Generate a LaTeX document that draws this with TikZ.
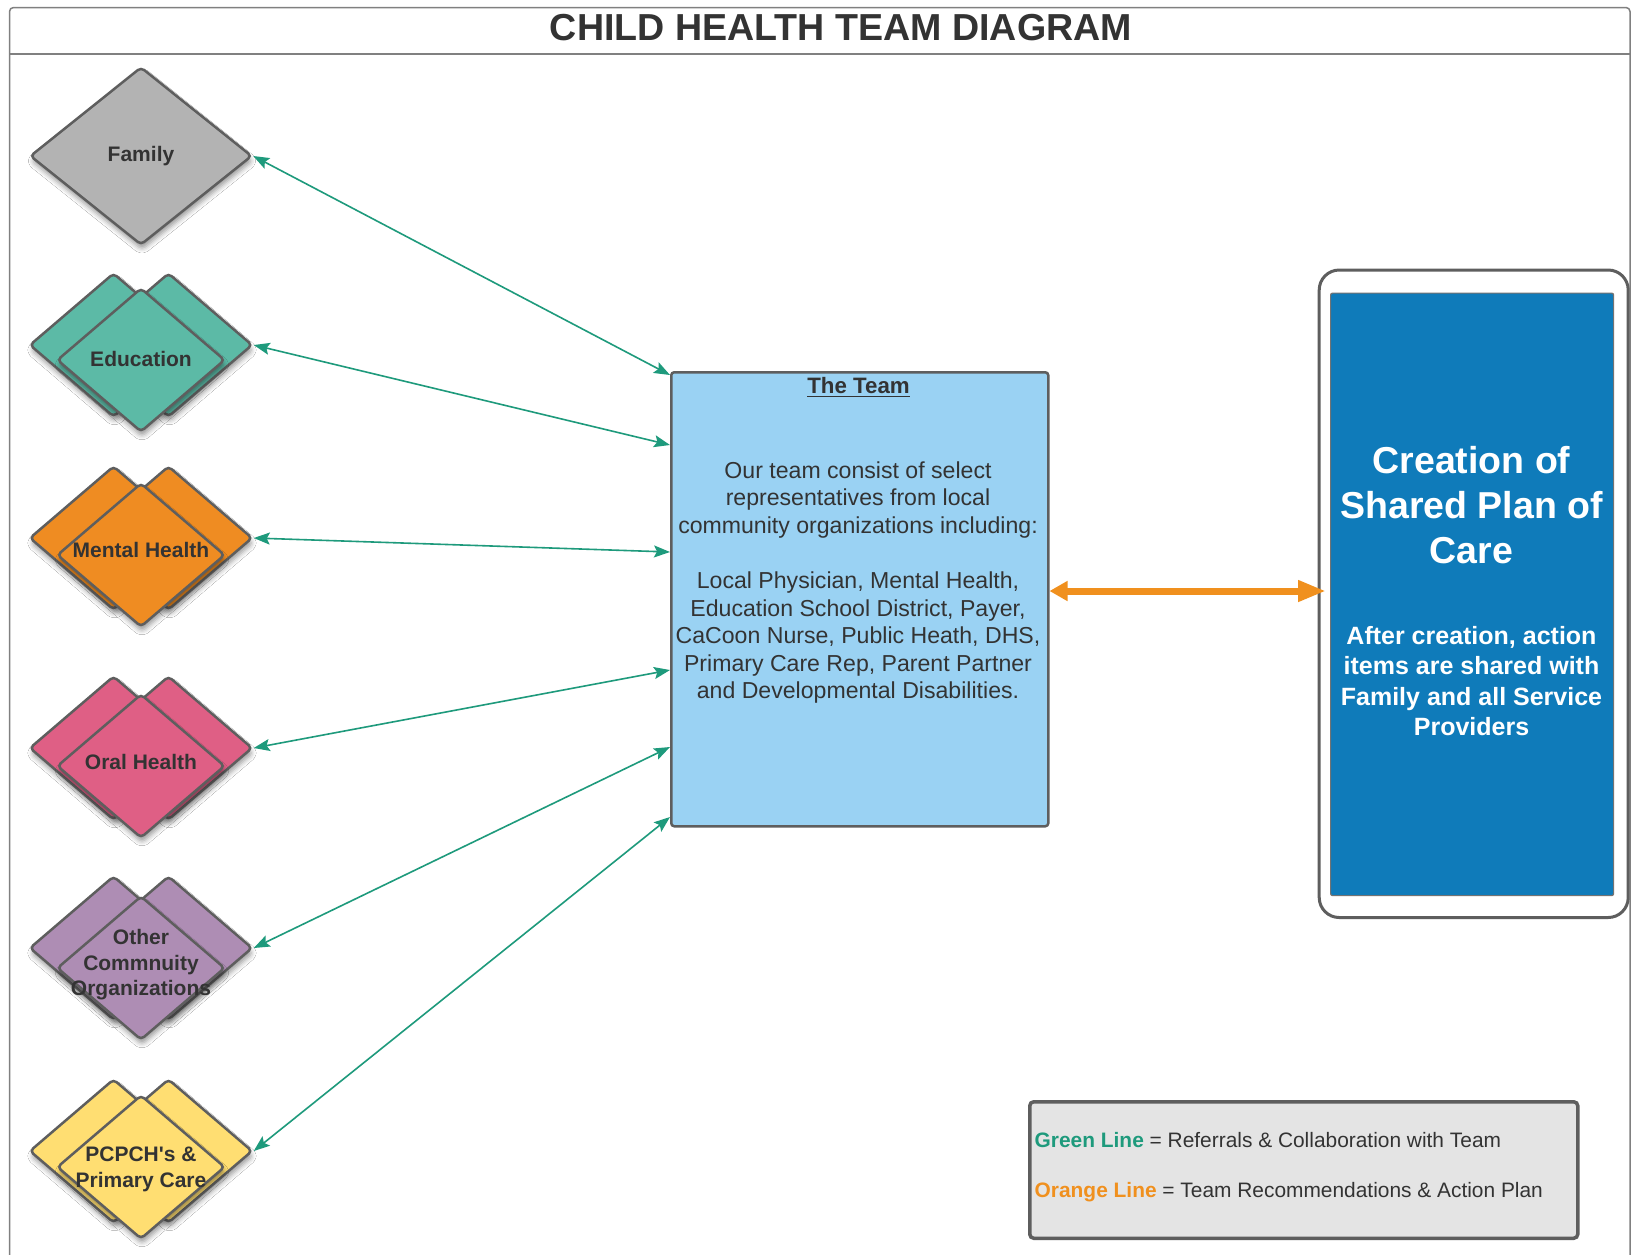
\documentclass[tikz,border=0pt]{standalone}
\usepackage{fontspec}
\setmainfont{Liberation Sans}
\usetikzlibrary{shapes.geometric,arrows.meta,shadows.blur,calc}
\definecolor{txt}{HTML}{333333}
\definecolor{bord}{HTML}{5E5E5E}
\definecolor{cfam}{HTML}{B3B3B3}
\definecolor{cedu}{HTML}{5CBAA6}
\definecolor{cmh}{HTML}{EF8C22}
\definecolor{coral}{HTML}{DF5F85}
\definecolor{cother}{HTML}{AE8DB4}
\definecolor{cpc}{HTML}{FFDE72}
\definecolor{cteam}{HTML}{9AD2F3}
\definecolor{cblue}{HTML}{0F7BBA}
\definecolor{gline}{HTML}{1E9A7C}
\definecolor{oline}{HTML}{F0901E}
\definecolor{legfill}{HTML}{E4E4E4}
\definecolor{framec}{HTML}{808080}
\begin{document}
\begin{tikzpicture}[x=1pt,y=-1pt,
  every node/.style={inner sep=0pt, text=txt},
  dia/.style={diamond, draw=bord, line width=2.5pt, rounded corners=4pt,
    minimum width=168pt, minimum height=144pt, inner sep=0pt,
    blur shadow={shadow xshift=1pt, shadow yshift=-5pt, shadow blur radius=5pt, shadow opacity=40}},
  lbl/.style={font=\fontsize{21}{25.5}\selectfont\bfseries, align=center, text=txt},
  garrow/.style={draw=gline, line width=1.6pt,
    {Stealth[length=16pt,width=12pt,inset=3pt]}-{Stealth[length=16pt,width=12pt,inset=3pt]}},
  oarrow/.style={draw=oline, line width=7pt,
    {Triangle[length=18pt,width=19pt]}-{Triangle[length=28pt,width=20pt]}},
  boxstyle/.style={draw=bord, anchor=north west, inner sep=0pt},
]
\useasboundingbox (0,0) rectangle (1632,1254);
\fill[white] (0,0) rectangle (1632,1254);

% frame and title
\draw[framec, line width=1.5pt, rounded corners=4pt] (9.5,1270) -- (9.5,7.5) -- (1630,7.5) -- (1630,1270);
\draw[framec, line width=1.5pt] (9.5,54) -- (1630,54);
\node[font=\fontsize{37.6}{45}\selectfont\bfseries] (title) at (841,28) {CHILD HEALTH TEAM DIAGRAM};

% team box
\node[boxstyle, line width=2.5pt, fill=cteam, rounded corners=3pt,
  minimum width=377pt, minimum height=454pt] (team) at (670,371) {};
\node[font=\fontsize{22.3}{26}\selectfont\bfseries, anchor=base] (teamtitle) at (858.5,393.3) {The Team};
\draw[txt, line width=1.4pt] ([yshift=-3pt]teamtitle.base west) -- ([yshift=-3pt]teamtitle.base east);
\node[font=\fontsize{23.1}{27.6}\selectfont, align=center] (teambody) at (858,582.5)
  {Our team consist of select\\representatives from local\\community organizations including:\\[27.6pt]
   Local Physician, Mental Health,\\Education School District, Payer,\\CaCoon Nurse, Public Heath, DHS,\\
   Primary Care Rep, Parent Partner\\and Developmental Disabilities.};

% plan box
\node[boxstyle, line width=3pt, fill=white, rounded corners=20pt,
  minimum width=309pt, minimum height=647.5pt] (outer) at (1317.7,268.5) {};
\node[boxstyle, draw=black!55, line width=1.2pt, fill=cblue, rounded corners=2pt,
  minimum width=283pt, minimum height=602.5pt] (plan) at (1330,292.5) {};
\node[font=\fontsize{37.5}{45.3}\selectfont\bfseries, text=white, align=center] (plantitle) at (1471.5,505)
  {Creation of\\Shared Plan of\\Care};
\node[font=\fontsize{25}{30.2}\selectfont\bfseries, text=white, align=center] (plantext) at (1471.5,681)
  {After creation, action\\items are shared with\\Family and all Service\\Providers};

% family
\node[dia, fill=cfam, minimum width=222pt, minimum height=178pt] (family) at (141,156) {};
\node[lbl, anchor=base] (familyl) at (141,161) {Family};

% education
\node[dia, fill=cedu] (eduL) at (113.5,345) {};
\node[dia, fill=cedu] (eduR) at (168.5,345) {};
\node[dia, fill=cedu] (edu) at (141,360) {};
\node[lbl, anchor=base] (edul) at (141,366) {Education};

% mental health
\node[dia, fill=cmh] (mhL) at (113.5,538) {};
\node[dia, fill=cmh] (mhR) at (168.5,538) {};
\node[dia, fill=cmh] (mh) at (141,555) {};
\node[lbl, anchor=base] (mhl) at (141,557.5) {Mental Health};

% oral health
\node[dia, fill=coral] (oralL) at (113.5,748) {};
\node[dia, fill=coral] (oralR) at (168.5,748) {};
\node[dia, fill=coral] (oral) at (141,766) {};
\node[lbl, anchor=base] (orall) at (141,769.5) {Oral Health};

% other community
\node[dia, fill=cother] (othL) at (113.5,948) {};
\node[dia, fill=cother] (othR) at (168.5,948) {};
\node[dia, fill=cother] (oth) at (141,968) {};
\node[lbl] (othl) at (141,965) {Other\\Commnuity\\Organizations};

% pcpch
\node[dia, fill=cpc] (pcL) at (113.5,1151) {};
\node[dia, fill=cpc] (pcR) at (168.5,1151) {};
\node[dia, fill=cpc] (pc) at (141,1167) {};
\node[lbl] (pcl) at (141,1169.5) {PCPCH\textquotesingle s \&\\Primary Care};

% green connectors
\coordinate (g1) at (0,375);
\coordinate (g2) at (0,445);
\coordinate (g3) at (0,552);
\coordinate (g4) at (0,670);
\coordinate (g5) at (0,747);
\coordinate (g6) at (0,817);
\draw[garrow] (family.east) -- (team.west |- g1);
\draw[garrow] (eduR.east) -- (team.west |- g2);
\draw[garrow] (mhR.east) -- (team.west |- g3);
\draw[garrow] (oralR.east) -- (team.west |- g4);
\draw[garrow] (othR.east) -- (team.west |- g5);
\draw[garrow] (pcR.east) -- (team.west |- g6);

% orange connector
\coordinate (oy) at (0,591);
\draw[oarrow, shorten >=4pt] (team.east |- oy) -- (plan.west |- oy);

% legend
\node[boxstyle, draw=bord, line width=3.5pt, fill=legfill, rounded corners=4pt,
  minimum width=548pt, minimum height=136.5pt] (legend) at (1028,1100) {};
\node[anchor=base west, font=\fontsize{20.9}{24}\selectfont] (leg1) at (1034.5,1147.5)
  {\textcolor{gline}{\bfseries Green Line} = Referrals \& Collaboration with Team};
\node[anchor=base west, font=\fontsize{20.9}{24}\selectfont] (leg2) at (1034.5,1197.5)
  {\textcolor{oline}{\bfseries Orange Line} = Team Recommendations \& Action Plan};
\end{tikzpicture}
\end{document}
